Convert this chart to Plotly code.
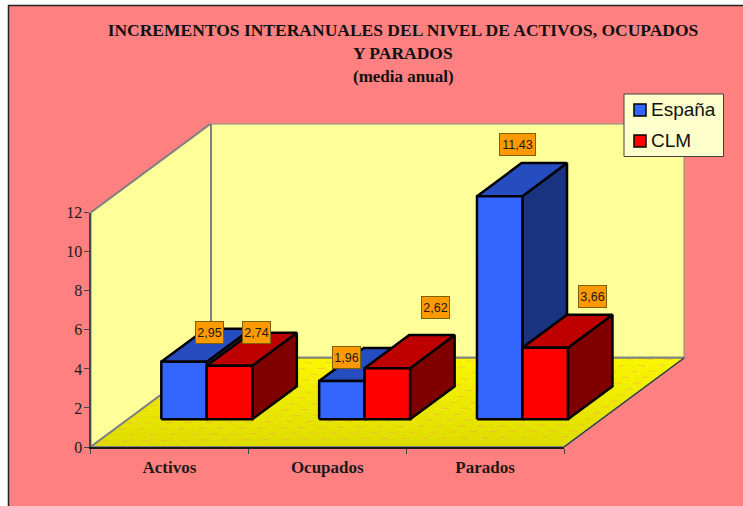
import plotly.graph_objects as go

# ---- data ----
categories = ["Activos", "Ocupados", "Parados"]
espana = [2.95, 1.96, 11.43]
clm = [2.74, 2.62, 3.66]
series_names = ["España", "CLM"]
y_ticks = [0, 2, 4, 6, 8, 10, 12]
label_text_espana = ["2,95", "1,96", "11,43"]
label_text_clm = ["2,74", "2,62", "3,66"]

# ---- page geometry (px) and oblique projection ----
W, H = 743, 506
X0, X1, Y0, Y12 = 90.5, 564, 447, 212.7
BACK_DX, BACK_DY = 120.5, 89.3            # px of the floor's depth vector
CAT_PX = (X1 - X0) / 3
VAL_PX = (Y0 - Y12) / 12
DEPTH_X = BACK_DX / CAT_PX                # depth vector in data units
DEPTH_Y = BACK_DY / VAL_PX
BAR_W = 0.288
BAR_GAP = (1 - 2 * BAR_W) / 2
D_FRONT, D_BACK = 0.31, 0.68

WALL = "#FFFF99"
EDGE = "#808080"
SHADES = {
    "España": ("#3366FF", "#264DBF", "#1A3380"),
    "CLM": ("#FF0000", "#BF0000", "#800000"),
}
label_offsets = {
    "España": [(3, -13), (-18, -7), (-5, -35)],
    "CLM": [(5, -17), (26, -44), (25, -35)],
}


def proj(x, y, d):
    return x + d * DEPTH_X, y + d * DEPTH_Y


def poly(corners, fill, line=EDGE, width=2, name=None, **kw):
    pts = [proj(*c) for c in corners]
    pts.append(pts[0])
    return go.Scatter(
        x=[p[0] for p in pts], y=[p[1] for p in pts], mode="lines", fill="toself",
        fillcolor=fill, line=dict(color=line, width=width), showlegend=False,
        hoverinfo="skip", xaxis="x", yaxis="y", name=name, **kw,
    )


fig = go.Figure()
top_val = max(y_ticks)
n = len(categories)

# walls and floor
fig.add_trace(poly([(0, 0, 0), (0, top_val, 0), (0, top_val, 1), (0, 0, 1)], WALL))
fig.add_trace(poly([(0, 0, 1), (0, top_val, 1), (n, top_val, 1), (n, 0, 1)], WALL))
floor = poly([(0, 0, 0), (n, 0, 0), (n, 0, 1), (0, 0, 1)], "#F2F000", width=2)
floor.fillgradient = dict(
    type="vertical",
    colorscale=[[0, "#DEDC00"], [1, "#FAF700"]],
)
fig.add_trace(floor)
# faint pink dither of the floor texture
for k in range(1, 15):
    d = k / 15
    a = proj(0.02, 0, d)
    b = proj(n - 0.02, 0.22, d)
    fig.add_trace(go.Scatter(x=[a[0], b[0]], y=[a[1], b[1]], mode="lines",
                             line=dict(color="rgba(255,128,128,0.35)", width=1, dash="7px,13px"),
                             showlegend=False, hoverinfo="skip", xaxis="x", yaxis="y"))
# thin black front-right floor edge over the grey one
rx = [proj(n, 0, 0)[0], proj(n, 0, 1)[0]]
ry = [proj(n, 0, 0)[1], proj(n, 0, 1)[1]]
fig.add_trace(go.Scatter(x=rx, y=ry, mode="lines", line=dict(color="#222222", width=1),
                         showlegend=False, hoverinfo="skip", xaxis="x", yaxis="y"))

annotations = []
for i in range(n):
    for s, (name, vals, texts) in enumerate(
        [(series_names[0], espana, label_text_espana), (series_names[1], clm, label_text_clm)]
    ):
        v = vals[i]
        xl = i + BAR_GAP + s * BAR_W
        xr = xl + BAR_W
        front, top, side = SHADES[name]
        fig.add_trace(poly([(xr, 0, D_FRONT), (xr, 0, D_BACK), (xr, v, D_BACK), (xr, v, D_FRONT)],
                           side, line="black", width=2.5))
        fig.add_trace(poly([(xl, v, D_FRONT), (xr, v, D_FRONT), (xr, v, D_BACK), (xl, v, D_BACK)],
                           top, line="black", width=2.5))
        fig.add_trace(poly([(xl, 0, D_FRONT), (xr, 0, D_FRONT), (xr, v, D_FRONT), (xl, v, D_FRONT)],
                           front, line="black", width=2.5, name=name))
        ax_, ay_ = proj((xl + xr) / 2, v, (D_FRONT + D_BACK) / 2)
        ox, oy = label_offsets[name][i]
        annotations.append(dict(
            x=ax_, y=ay_, xref="x", yref="y", text=texts[i], showarrow=False,
            xshift=ox, yshift=-oy, width=(35 if len(texts[i]) > 4 else 27), height=21, bgcolor="#FF9900",
            bordercolor="#7F6000", borderwidth=1, borderpad=0,
            font=dict(family="Liberation Sans", size=12.5, color="#1a1a1a"),
        ))

# visible front-plane axes
fig.add_trace(go.Scatter(x=[None], y=[None], xaxis="x2", yaxis="y2", showlegend=False, hoverinfo="skip"))


def fx(px):
    return px / W


def fy(px):
    return 1 - px / H


SERIF = "Liberation Serif"
fig.update_layout(
    width=W, height=H, margin=dict(l=0, r=0, t=0, b=0), autosize=False,
    paper_bgcolor="white", plot_bgcolor="rgba(0,0,0,0)", showlegend=False,
    title=dict(
        text="<b>INCREMENTOS INTERANUALES DEL NIVEL DE ACTIVOS, OCUPADOS</b>",
        x=fx(403), xanchor="center", y=fy(30), yanchor="middle",
        font=dict(family=SERIF, size=17.5, color="#111111"),
    ),
    xaxis=dict(domain=[fx(X0), fx(X0 + (n + DEPTH_X) * CAT_PX)], range=[0, n + DEPTH_X], visible=False, fixedrange=True, automargin=False),
    yaxis=dict(domain=[fy(Y0), fy(Y0 - (top_val + DEPTH_Y) * VAL_PX)], range=[0, top_val + DEPTH_Y], visible=False, fixedrange=True, automargin=False),
    xaxis2=dict(
        domain=[fx(X0), fx(X1)], range=[0, n], anchor="y2", showgrid=False, zeroline=False,
        showline=True, linecolor="#1a1a1a", linewidth=2, automargin=False,
        tickmode="array", tickvals=[i + 0.5 for i in range(n)],
        ticktext=[f"<b>{c}</b>" for c in categories], ticks="outside", ticklen=4,
        tickcolor="rgba(0,0,0,0)", tickfont=dict(family=SERIF, size=17, color="#1a1a1a"),
        minor=dict(tickmode="array", tickvals=list(range(n + 1)), ticks="outside", ticklen=5,
                   tickcolor="#444444", tickwidth=1, showgrid=False),
        fixedrange=True,
    ),
    yaxis2=dict(
        domain=[fy(Y0), fy(Y12)], range=[0, top_val], anchor="x2", showgrid=False, zeroline=False,
        showline=True, linecolor="#444444", linewidth=2, tickmode="array", tickvals=y_ticks, automargin=False,
        ticks="outside", ticklen=5, tickcolor="#444444", tickwidth=1, ticklabelstandoff=-2,
        tickfont=dict(family=SERIF, size=16, color="#1a1a1a"), fixedrange=True,
    ),
    shapes=[
        dict(type="rect", xref="paper", yref="paper", x0=fx(8.5), x1=1.05, y0=-0.05, y1=fy(5.5),
             fillcolor="#FF8080", line=dict(color="#222222", width=1.5), layer="below"),
        dict(type="rect", xref="paper", yref="paper", x0=fx(624), x1=fx(723.5), y0=fy(156.5), y1=fy(94),
             fillcolor="#FFFFCC", line=dict(color="#404040", width=1), layer="above"),
        dict(type="rect", xref="paper", yref="paper", x0=fx(634), x1=fx(646), y0=fy(116), y1=fy(104),
             fillcolor=SHADES["España"][0], line=dict(color="black", width=1.5), layer="above"),
        dict(type="rect", xref="paper", yref="paper", x0=fx(634), x1=fx(646), y0=fy(147), y1=fy(135),
             fillcolor=SHADES["CLM"][0], line=dict(color="black", width=1.5), layer="above"),
    ],
    annotations=annotations + [
        dict(xref="paper", yref="paper", x=fx(403), y=fy(53), yanchor="middle", text="<b>Y PARADOS</b>", showarrow=False,
             font=dict(family=SERIF, size=17.5, color="#111111")),
        dict(xref="paper", yref="paper", x=fx(403), y=fy(76), yanchor="middle", text="<b>(media anual)</b>", showarrow=False,
             font=dict(family=SERIF, size=17, color="#111111")),
        dict(xref="paper", yref="paper", x=fx(649), y=fy(110), xanchor="left", yanchor="middle", text=series_names[0], showarrow=False,
             font=dict(family="Liberation Sans", size=19, color="#111111")),
        dict(xref="paper", yref="paper", x=fx(649), y=fy(141), xanchor="left", yanchor="middle", text=series_names[1], showarrow=False,
             font=dict(family="Liberation Sans", size=19, color="#111111")),
    ],
)

fig.write_html("out.html", post_script="document.body.style.margin='0';", config={"displayModeBar": False})
